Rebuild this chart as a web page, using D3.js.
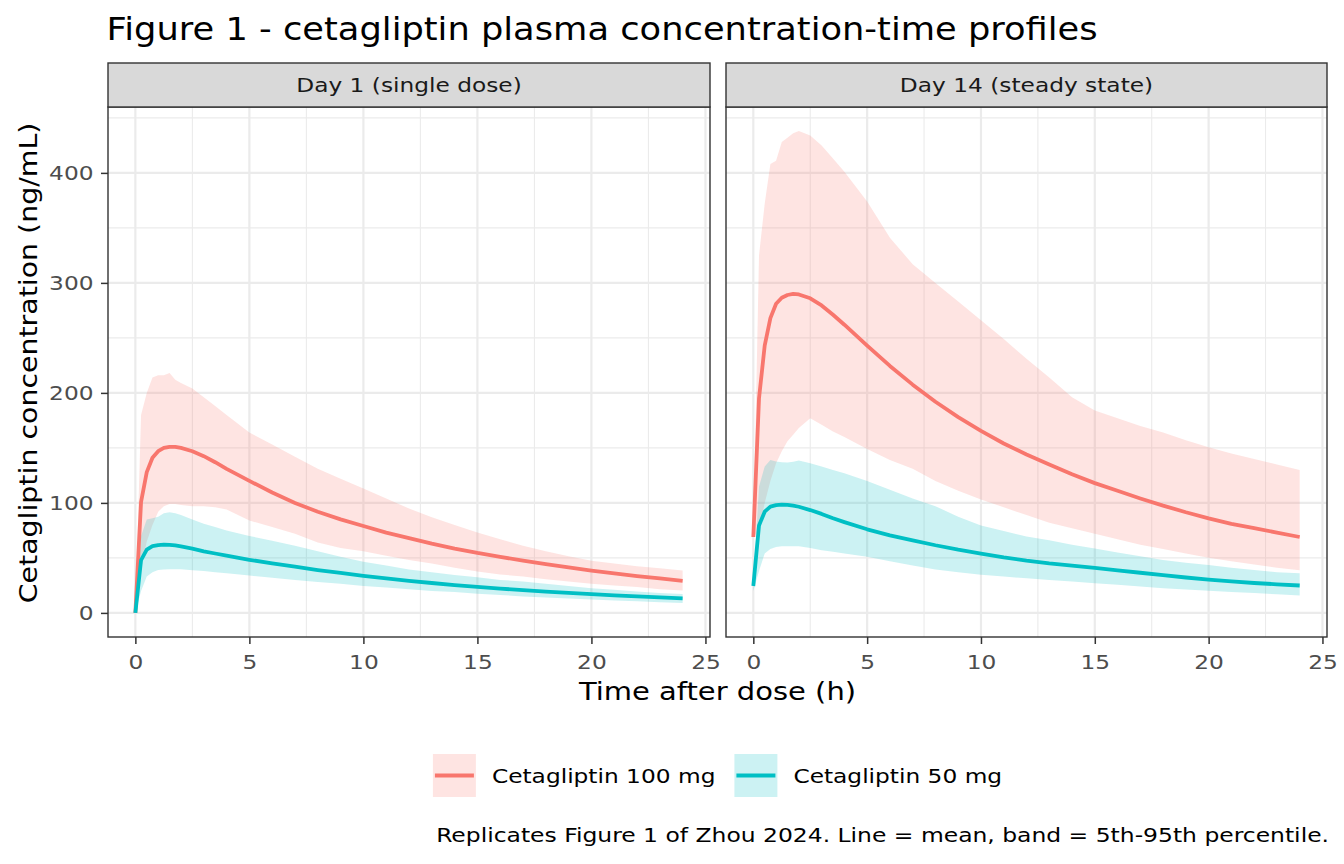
<!DOCTYPE html>
<html>
<head>
<meta charset="utf-8">
<script src="https://cdn.jsdelivr.net/npm/d3@7"></script>
<style>
  body { margin: 0; background: #ffffff; }
  text { font-family: "DejaVu Sans", sans-serif; }
</style>
</head>
<body>
<svg id="chart" width="1344" height="864"></svg>
<script>
// ---------------- DATA ----------------
const times = [0,0.25,0.5,0.75,1,1.25,1.5,1.75,2,2.5,3,3.5,4,5,6,7,8,9,10,11,12,13,14,15,16,17,18,19,20,21,22,23,24];

// Day 1 (single dose)
const day1_100_mean = [0,101,128,141,147,150,151,151,150,147,142.5,137,131,120,109.5,100,92,85,79,73,68,63,58.5,54.5,51,47.5,44.3,41.3,38.5,36,33.5,31.3,29.2];
const day1_100_hi   = [0,180,200,214,216,216,218,212,209,204,196,188,180,164,153,142,131,122,113,104,95,87,80,73,67,61,56,51.5,47.5,45,42.5,40.5,38.5];
const day1_100_lo   = [0,40,65,80,92,97,99,99,98,97,97,96,94,84,78,72,64,59,56,52,48,45,41,37.6,35,33,30.5,28.5,26.5,25,23.5,21.5,20.3];
const day1_50_mean  = [0,48,57.5,60.7,61.6,62,61.9,61.3,60.5,58.5,56,54,52,48.3,45,42,39,36.3,33.7,31.3,29.2,27.2,25.3,23.6,22.1,20.7,19.4,18.2,17,16,15,14.1,13.3];
const day1_50_hi    = [0,70,85,86,87.5,90.5,91.5,90.5,89,85,81,78,75,70,65.5,61,56,51,46.5,43,39.5,37,34.5,32.5,30,28.5,26.5,24.5,22.5,21,19.5,18.2,17.3];
const day1_50_lo    = [0,20,33,37,39,39.5,39.6,39.6,39.6,38.7,38,37,36,34,32,30,28,26.5,24.5,23,21.5,20,19,17.5,16.3,15,14,13,12.1,11.3,10.6,9.8,9.1];

// Day 14 (steady state)
const day14_100_mean = [69,195,243,268,281,286.5,289,290,289.5,286,279.5,271,262,243,224.5,207.5,192,178,165.5,154,144,135,126,118,111,104,97.5,91.5,86,81,77,73,69];
const day14_100_hi   = [69,325,372,408,411,428,432,436,438,434,425,413,401,374,341,317,300,283,266,249,231,214,196,184,177,170,164,157,150.5,145,140,135,130];
const day14_100_lo   = [69,75,100,120,136,147,156,162,168,177,171,165,160,149,139,131,120,111,103,96,89,82,77,72,67,62,58,54,50.2,47,44,41,38.8];
const day14_50_mean  = [24.5,79.5,92,96.6,98,98.5,98.3,97.5,96.5,93.5,90,86,82.5,76,70.5,66,61.5,57.5,54,50.5,47.5,45,43,41,38.7,36.5,34.4,32.2,30.2,28.6,27.2,26,24.9];
const day14_50_hi    = [27,115,133,139,137.7,137,136.8,137.5,138.6,136,133,130,127,120,112,104,97,87.5,79.5,74.5,69.5,66,62,58.5,55,51.5,48,45.5,43.5,41,39,37,36];
const day14_50_lo    = [20,38,54,58,60,60.5,60.7,60.6,60.5,59,57,55.5,54,51,47,43,39.5,37,34.6,33,31.5,30,28.5,27,25.5,24,22.5,21.2,20.1,19,18,16.9,15.9];

const panelLabels = ["Day 1 (single dose)", "Day 14 (steady state)"];
const doseLabels  = ["Cetagliptin 100 mg", "Cetagliptin 50 mg"];
const doseColors  = ["#F8766D", "#00BFC4"];
const xTicks = [0, 5, 10, 15, 20, 25];
const xMinor = [2.5, 7.5, 12.5, 17.5, 22.5];
const yTicks = [0, 100, 200, 300, 400];
const yMinor = [50, 150, 250, 350, 450];
const titleText   = "Figure 1 - cetagliptin plasma concentration-time profiles";
const xTitleText  = "Time after dose (h)";
const yTitleText  = "Cetagliptin concentration (ng/mL)";
const captionText = "Replicates Figure 1 of Zhou 2024. Line = mean, band = 5th-95th percentile.";

// ---------------- BUILD ----------------
const panels = [
  { label: panelLabels[0], series: [
      { dose: doseLabels[0], mean: day1_100_mean, lo: day1_100_lo, hi: day1_100_hi },
      { dose: doseLabels[1], mean: day1_50_mean,  lo: day1_50_lo,  hi: day1_50_hi } ] },
  { label: panelLabels[1], series: [
      { dose: doseLabels[0], mean: day14_100_mean, lo: day14_100_lo, hi: day14_100_hi },
      { dose: doseLabels[1], mean: day14_50_mean,  lo: day14_50_lo,  hi: day14_50_hi } ] }
];

const W = 1344, H = 864;
const FS_SMALL = 19.6, SX_SMALL = 1.188, SX_CAPTION = 1.196;
const FS_AXIS = 25, SX_XT = 1.16, SX_YT = 1.136;
const FS_TITLE = 32, SX_TITLE = 1.102;
const panelTop = 107, panelBottom = 637, stripTop = 63;
const panelX = [[108, 710], [726, 1327]];

const svg = d3.select("#chart");
svg.append("rect").attr("width", W).attr("height", H).attr("fill", "#ffffff");

const color = d3.scaleOrdinal().domain(doseLabels).range(doseColors);

const tExt = d3.extent(times);
const tPad = (tExt[1] - tExt[0]) * 0.05;
const allVals = panels.flatMap(p => p.series.flatMap(s => [...s.lo, ...s.hi, ...s.mean]));
const vMin = d3.min(allVals), vMax = d3.max(allVals);
const vPad = (vMax - vMin) * 0.05;
const y = d3.scaleLinear().domain([vMin - vPad, vMax + vPad]).range([panelBottom, panelTop]);

function stretchedText(g, x, yy, str, size, sx, anchor, fill, rotate) {
  return g.append("text")
    .attr("transform", `translate(${x},${yy})` + (rotate ? ` rotate(${rotate})` : "") + ` scale(${sx},1)`)
    .attr("text-anchor", anchor)
    .attr("font-size", size)
    .attr("fill", fill)
    .text(str);
}

// Title
stretchedText(svg, 106.6, 40, titleText, FS_TITLE, SX_TITLE, "start", "#000000");

panels.forEach((p, i) => {
  const [x0, x1] = panelX[i];
  const x = d3.scaleLinear().domain([tExt[0] - tPad, tExt[1] + tPad]).range([x0, x1]);
  const g = svg.append("g");

  g.append("rect").attr("x", x0).attr("y", panelTop).attr("width", x1 - x0).attr("height", panelBottom - panelTop).attr("fill", "#ffffff");

  // grid
  g.selectAll(".ymin").data(yMinor.filter(v => v <= y.domain()[1])).join("line")
    .attr("x1", x0).attr("x2", x1).attr("y1", d => y(d)).attr("y2", d => y(d))
    .attr("stroke", "#EBEBEB").attr("stroke-width", 1.1);
  g.selectAll(".xmin").data(xMinor).join("line")
    .attr("x1", d => x(d)).attr("x2", d => x(d)).attr("y1", panelTop).attr("y2", panelBottom)
    .attr("stroke", "#EBEBEB").attr("stroke-width", 1.1);
  g.selectAll(".ymaj").data(yTicks).join("line")
    .attr("x1", x0).attr("x2", x1).attr("y1", d => y(d)).attr("y2", d => y(d))
    .attr("stroke", "#EBEBEB").attr("stroke-width", 2.2);
  g.selectAll(".xmaj").data(xTicks).join("line")
    .attr("x1", d => x(d)).attr("x2", d => x(d)).attr("y1", panelTop).attr("y2", panelBottom)
    .attr("stroke", "#EBEBEB").attr("stroke-width", 2.2);

  // ribbons
  const area = d3.area().x((d, k) => x(times[k])).y0(d => y(d[0])).y1(d => y(d[1]));
  p.series.forEach(s => {
    const pts = s.lo.map((v, k) => [v, s.hi[k]]);
    g.append("path").attr("d", area(pts)).attr("fill", color(s.dose)).attr("fill-opacity", 0.2);
  });
  // mean lines
  const line = d3.line().x((d, k) => x(times[k])).y(d => y(d));
  p.series.forEach(s => {
    g.append("path").attr("d", line(s.mean)).attr("fill", "none")
      .attr("stroke", color(s.dose)).attr("stroke-width", 3.8).attr("stroke-linejoin", "round");
  });

  // panel border
  g.append("rect").attr("x", x0).attr("y", panelTop).attr("width", x1 - x0).attr("height", panelBottom - panelTop)
    .attr("fill", "none").attr("stroke", "#333333").attr("stroke-width", 1.4);

  // strip
  g.append("rect").attr("x", x0).attr("y", stripTop).attr("width", x1 - x0).attr("height", panelTop - stripTop)
    .attr("fill", "#D9D9D9").attr("stroke", "#333333").attr("stroke-width", 1.4);
  stretchedText(g, (x0 + x1) / 2, 92, p.label, FS_SMALL, SX_SMALL, "middle", "#1A1A1A");

  // x axis
  const xa = g.append("g").attr("transform", `translate(0,${panelBottom})`)
    .call(d3.axisBottom(x).tickValues(xTicks).tickSize(7).tickFormat(d3.format("d")));
  xa.select(".domain").remove();
  xa.selectAll(".tick line").attr("stroke", "#333333").attr("stroke-width", 1.5);
  xa.selectAll(".tick text").attr("y", 32).attr("dy", 0).attr("font-size", FS_SMALL)
    .attr("fill", "#4D4D4D").attr("font-family", "DejaVu Sans").attr("transform", `scale(${SX_SMALL},1)`);

  // y axis only on first panel
  if (i === 0) {
    const ya = g.append("g").attr("transform", `translate(${x0},0)`)
      .call(d3.axisLeft(y).tickValues(yTicks).tickSize(7).tickFormat(d3.format("d")));
    ya.select(".domain").remove();
    ya.selectAll(".tick line").attr("stroke", "#333333").attr("stroke-width", 1.5);
    ya.selectAll(".tick text").attr("x", -14.5 / SX_SMALL).attr("dy", "0.36em").attr("font-size", FS_SMALL)
      .attr("fill", "#4D4D4D").attr("font-family", "DejaVu Sans").attr("transform", `scale(${SX_SMALL},1)`);
  }
});

// axis titles
stretchedText(svg, (panelX[0][0] + panelX[1][1]) / 2, 700, xTitleText, FS_AXIS, SX_XT, "middle", "#000000");
stretchedText(svg, 37, 363, yTitleText, FS_AXIS, SX_YT, "middle", "#000000", -90);

// legend
const keySize = 43, keyGap = 16, itemGap = 19, legendCY = 775.5;
const lg = svg.append("g");
const items = doseLabels.map(d => {
  const tmp = lg.append("text").attr("font-size", FS_SMALL).text(d);
  const w = tmp.node().getComputedTextLength() * SX_SMALL;
  tmp.remove();
  return { dose: d, w };
});
const totalW = d3.sum(items, it => keySize + keyGap + it.w) + itemGap * (items.length - 1);
let cx = (panelX[0][0] + panelX[1][1]) / 2 - totalW / 2;
items.forEach(it => {
  lg.append("rect").attr("x", cx).attr("y", legendCY - keySize / 2).attr("width", keySize).attr("height", keySize)
    .attr("fill", color(it.dose)).attr("fill-opacity", 0.2);
  lg.append("line").attr("x1", cx + 2).attr("x2", cx + keySize - 2).attr("y1", legendCY).attr("y2", legendCY)
    .attr("stroke", color(it.dose)).attr("stroke-width", 3.8);
  stretchedText(lg, cx + keySize + keyGap, legendCY + 7, it.dose, FS_SMALL, SX_SMALL, "start", "#000000");
  cx += keySize + keyGap + it.w + itemGap;
});

// caption
stretchedText(svg, 1329, 842, captionText, FS_SMALL, SX_CAPTION, "end", "#000000");
</script>
</body>
</html>
